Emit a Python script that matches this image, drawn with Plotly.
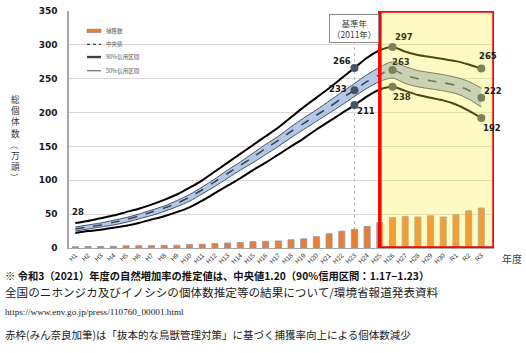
import plotly.graph_objects as go

# ---------------- data ----------------
years = ["H1", "H2", "H3", "H4", "H5", "H6", "H7", "H8", "H9", "H10",
         "H11", "H12", "H13", "H14", "H15", "H16", "H17", "H18", "H19", "H20",
         "H21", "H22", "H23", "H24", "H25", "H26", "H27", "H28", "H29", "H30",
         "R1", "R2", "R3"]

capture = [2.0, 2.2, 2.3, 2.6, 3.3, 3.4, 3.5, 3.8, 4.0, 5.0,
           5.6, 6.5, 7.4, 8.2, 9.3, 9.6, 10.4, 12.2, 13.6, 16.8,
           21.0, 24.8, 27.6, 31.8, 37.6, 44.9, 46.8, 45.8, 47.6, 45.8,
           49.2, 55.0, 59.0]

median = [28, 31, 34, 38, 42, 47, 53, 59, 66, 75,
          86, 98, 110, 122, 134, 147, 159, 172, 184, 196,
          208, 221, 233, 246, 256, 263, 255, 250, 247, 244,
          240, 233, 222]

upper90 = [37, 40, 44, 48, 53, 58, 64, 71, 79, 89,
           100, 113, 126, 139, 152, 165, 178, 193, 208, 222,
           236, 251, 266, 281, 292, 297, 290, 285, 282, 279,
           276, 271, 265]

lower90 = [22, 25, 27, 30, 33, 37, 42, 47, 53, 60,
           70, 81, 92, 103, 115, 126, 138, 150, 162, 175,
           187, 199, 211, 224, 234, 238, 232, 226, 222, 218,
           212, 203, 192]

upper50 = [31, 34, 37, 41, 45, 50, 56, 62, 70, 79,
           90, 102, 115, 127, 140, 153, 165, 179, 192, 204,
           217, 230, 243, 256, 267, 275, 268, 262, 259, 256,
           252, 246, 236]

lower50 = [25, 28, 31, 34, 38, 43, 48, 54, 61, 69,
           80, 91, 103, 115, 126, 138, 150, 163, 175, 187,
           199, 211, 224, 236, 246, 251, 243, 238, 235, 232,
           228, 220, 208]

marked_years = ["H23", "H26", "R3"]
base_year = "H23"
box_start = "H25"

legend_labels = ["捕獲数", "中央値", "90%信用区間", "50%信用区間"]

# ---------------- geometry helpers (pixel -> paper) ----------------
W, H = 526, 353
ML, MR, MT, MB = 69, 32, 6, 105
PL, PR, PT, PB = ML, W - MR, MT, H - MB


def px(x):
    return (x - PL) / (PR - PL)


def py(y):
    return (PB - y) / (PB - PT)


fig = go.Figure()

# bars
fig.add_trace(go.Bar(
    x=years, y=capture, width=0.48,
    marker=dict(color="#ED7D31", line=dict(color="#8497b0", width=0.8)),
    showlegend=False, hoverinfo="skip"))

# 50% band
fig.add_trace(go.Scatter(
    x=years, y=lower50, mode="lines",
    line=dict(color="#44546a", width=1, shape="spline", smoothing=0.8),
    showlegend=False, hoverinfo="skip"))
fig.add_trace(go.Scatter(
    x=years, y=upper50, mode="lines", fill="tonexty", fillcolor="#b4c7e7",
    line=dict(color="#44546a", width=1, shape="spline", smoothing=0.8),
    showlegend=False, hoverinfo="skip"))

# median
fig.add_trace(go.Scatter(
    x=years, y=median, mode="lines",
    line=dict(color="#3a4555", width=1.6, dash="dash", shape="spline", smoothing=0.8),
    showlegend=False, hoverinfo="skip"))

# 90% interval
for series in (upper90, lower90):
    fig.add_trace(go.Scatter(
        x=years, y=series, mode="lines",
        line=dict(color="#000000", width=2, shape="spline", smoothing=0.8),
        showlegend=False, hoverinfo="skip"))

# marker dots
idx = [years.index(y) for y in marked_years]
for series in (upper90, median, lower90):
    fig.add_trace(go.Scatter(
        x=[years[i] for i in idx], y=[series[i] for i in idx], mode="markers",
        marker=dict(color="#44546a", size=8),
        showlegend=False, hoverinfo="skip"))

# ---------------- value labels ----------------
num_font = dict(family="DejaVu Sans", size=8.5, color="#1a1a1a", weight="bold")
label_specs = [
    (upper90, "H23", -12, 7), (median, "H23", -16, 1), (lower90, "H23", 12, -6),
    (upper90, "H26", 11, 10), (median, "H26", 8, 8), (lower90, "H26", 9, -10),
    (upper90, "R3", 7, 13), (median, "R3", 12, 7), (lower90, "R3", 11, -10),
    (median, "H1", 3, 17),
]
annotations = []
for series, yr, dx, dy in label_specs:
    i = years.index(yr)
    col = "#3a3a1c" if yr == "H26" else "#1a1a1a"
    annotations.append(dict(
        x=yr, y=series[i], xref="x", yref="y", text=str(series[i]),
        showarrow=False, xshift=dx, yshift=dy,
        font=dict(num_font, color=col)))

# base year box
annotations.append(dict(
    x=base_year, xref="x", y=py(24), yref="paper", yanchor="middle",
    text="基準年<br>（2011年）", showarrow=False,
    font=dict(family="Noto Sans CJK JP", size=8.5, color="#404040"),
    bgcolor="white", bordercolor="#8c8c8c", borderwidth=1, borderpad=2))

# y title (vertical, stacked characters)
yt_font = dict(family="Noto Sans CJK JP", size=8.6, color="#333333")
ytitle_parts = [("総<br>個<br>体<br>数", 0, 113), ("（", 90, 142.5),
                ("万<br>頭", 0, 159), ("）", 90, 175.5)]
for txt, ang, yc in ytitle_parts:
    annotations.append(dict(
        x=px(15), y=py(yc), xref="paper", yref="paper", text=txt, textangle=ang,
        showarrow=False, xanchor="center", yanchor="middle", font=yt_font))

# x axis title
annotations.append(dict(
    x=px(512), y=py(259), xref="paper", yref="paper", text="年度",
    showarrow=False, xanchor="center", yanchor="middle",
    font=dict(family="Noto Sans CJK JP", size=10, color="#404040")))

# custom legend
leg_y = [26, 40, 53, 67]
for lab, yc in zip(legend_labels, leg_y):
    annotations.append(dict(
        x=px(104), y=py(yc), xref="paper", yref="paper", text=lab,
        showarrow=False, xanchor="left", yanchor="middle",
        font=dict(family="Noto Sans CJK JP", size=5.5, color="#595959")))

# notes below chart
notes = [
    ("※ 令和3（2021）年度の自然増加率の推定値は、中央値1.20（90%信用区間：1.17−1.23）",
     276.5, dict(family="Noto Sans CJK JP", size=10.3, color="#111111", weight="bold")),
    ("全国のニホンジカ及びイノシシの個体数推定等の結果について/環境省報道発表資料",
     292.5, dict(family="Noto Sans CJK JP", size=11.6, color="#222222")),
    ("https://www.env.go.jp/press/110760_00001.html",
     313, dict(family="Liberation Serif", size=9.2, color="#222222")),
    ("赤枠(みん奈良加筆)は「抜本的な鳥獣管理対策」に基づく捕獲率向上による個体数減少",
     336, dict(family="Noto Sans CJK JP", size=10.5, color="#222222")),
]
for text, yc, f in notes:
    annotations.append(dict(
        x=px(3), y=py(yc), xref="paper", yref="paper", text=text,
        showarrow=False, xanchor="left", yanchor="middle", font=f))

# ---------------- shapes ----------------
bx = years.index(box_start)
shapes = [
    # legend background
    dict(type="rect", xref="paper", yref="paper", x0=px(82), x1=px(146),
         y0=py(76), y1=py(17), fillcolor="white", line=dict(width=0), layer="between"),
    dict(type="rect", xref="paper", yref="paper", x0=px(87), x1=px(101),
         y0=py(28), y1=py(24.5), fillcolor="#ED7D31", line=dict(color="#7f7f7f", width=0.6)),
    dict(type="line", xref="paper", yref="paper", x0=px(87), x1=px(101),
         y0=py(40), y1=py(40), line=dict(color="#404040", width=1.2, dash="dot")),
    dict(type="line", xref="paper", yref="paper", x0=px(87), x1=px(101),
         y0=py(53), y1=py(53), line=dict(color="#404040", width=2.4)),
    dict(type="line", xref="paper", yref="paper", x0=px(87), x1=px(101),
         y0=py(67), y1=py(67), line=dict(color="#6b6b6b", width=1.2)),
    # base year dashed line
    dict(type="line", xref="x", yref="y", x0=years.index(base_year), x1=years.index(base_year),
         y0=0, y1=307, line=dict(color="#bfbfbf", width=1, dash="dot"), layer="between"),
    # yellow overlay
    dict(type="rect", xref="x", yref="y", x0=bx, x1=33.0, y0=0, y1=350,
         fillcolor="rgba(255,236,60,0.30)", line=dict(width=0), layer="above"),
    # red frame
    dict(type="rect", xref="x", yref="y", x0=bx, x1=33.0, y0=0, y1=350,
         fillcolor="rgba(0,0,0,0)", line=dict(color="#ff0000", width=3.5), layer="above"),
]

fig.update_layout(
    width=W, height=H,
    margin=dict(l=ML, r=MR, t=MT, b=MB, pad=0),
    paper_bgcolor="white", plot_bgcolor="white",
    showlegend=False, bargap=0.5,
    annotations=annotations, shapes=shapes,
    xaxis=dict(type="category", range=[-0.5, 33.0], tickangle=-45,
               tickfont=dict(family="Liberation Sans", size=6.5, color="#333333"),
               showline=True, linecolor="#a6a6a6", linewidth=1,
               showgrid=False, ticks="", fixedrange=True),
    yaxis=dict(range=[0, 350], tickvals=[0, 50, 100, 150, 200, 250, 300, 350],
               tickfont=dict(family="DejaVu Sans", size=9, color="#1a1a1a", weight="bold"),
               showline=True, linecolor="#a6a6a6", linewidth=1.5,
               gridcolor="#d9d9d9", gridwidth=1.2, zeroline=False,
               ticks="", ticklabelstandoff=8, fixedrange=True),
)

fig.write_html("out.html")
